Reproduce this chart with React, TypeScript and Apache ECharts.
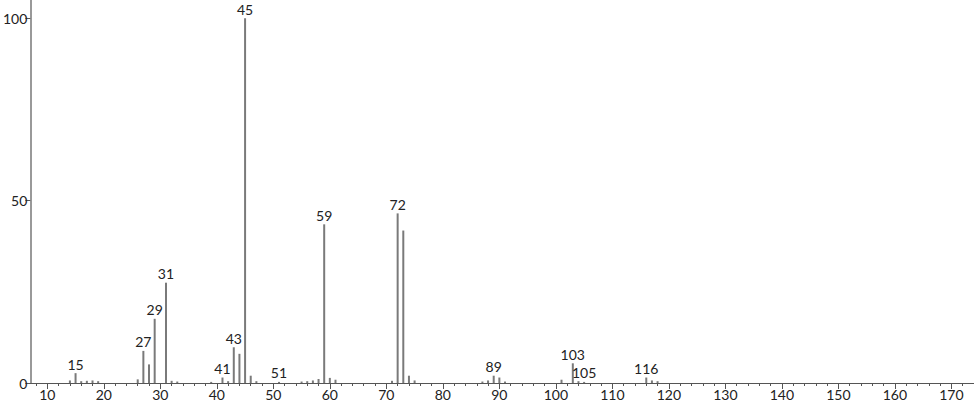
import React, { useEffect, useRef } from "react";
import * as echarts from "echarts";

const mzValues = [14, 15, 16, 17, 18, 19, 26, 27, 28, 29, 31, 32, 33, 39, 41, 42, 43, 44, 45, 46, 47, 51, 55, 56, 57, 58, 59, 60, 61, 71, 72, 73, 74, 75, 87, 88, 89, 90, 91, 101, 103, 104, 105, 116, 117, 118];
const intensities = [0.7, 2.7, 0.5, 0.6, 0.7, 0.5, 1.0, 8.8, 5.1, 17.6, 27.5, 0.6, 0.4, 0.3, 1.5, 0.5, 9.8, 8.0, 100, 2.0, 0.5, 0.3, 0.4, 0.5, 0.7, 1.1, 43.5, 1.4, 0.9, 0.6, 46.5, 41.8, 2.0, 0.7, 0.4, 0.7, 2.0, 1.5, 0.4, 0.9, 5.4, 0.5, 0.3, 1.5, 0.7, 0.5];
const labeledPeaks = [15, 27, 29, 31, 41, 43, 45, 51, 59, 72, 89, 103, 105, 116];
const xMajorTicks = [10, 20, 30, 40, 50, 60, 70, 80, 90, 100, 110, 120, 130, 140, 150, 160, 170];
const xMinorTicks = [8, 12, 14, 16, 18, 22, 24, 26, 28, 32, 34, 36, 38, 42, 44, 46, 48, 52, 54, 56, 58, 62, 64, 66, 68, 72, 74, 76, 78, 82, 84, 86, 88, 92, 94, 96, 98, 102, 104, 106, 108, 112, 114, 116, 118, 122, 124, 126, 128, 132, 134, 136, 138, 142, 144, 146, 148, 152, 154, 156, 158, 162, 164, 166, 168, 172, 174];
const yTicks = [0, 50, 100];

const FONT = "Lato, 'DejaVu Sans', sans-serif";

export default function App() {
  const ref = useRef<HTMLDivElement>(null);
  useEffect(() => {
    if (!ref.current) return;
    const chart = echarts.init(ref.current, null, { renderer: "svg" });
    const data = mzValues.map((mz, i) => ({
      value: [mz, intensities[i]],
      label: { show: labeledPeaks.includes(mz) },
    }));
    chart.setOption({
      animation: false,
      backgroundColor: "#ffffff",
      grid: { left: 30, right: 0, top: 0, bottom: 23, containLabel: false },
      xAxis: [
        {
          type: "value",
          min: 7,
          max: 174,
          position: "bottom",
          axisLine: { show: true, lineStyle: { color: "#555", width: 1 } },
          axisTick: { show: true, customValues: xMajorTicks, length: 6, lineStyle: { color: "#555" } },
          axisLabel: { show: true, customValues: xMajorTicks, fontSize: 14, color: "#222", margin: 4, fontFamily: FONT },
          splitLine: { show: false },
        },
        {
          type: "value",
          min: 7,
          max: 174,
          position: "bottom",
          axisLine: { show: false },
          axisTick: { show: true, customValues: xMinorTicks, length: 3, lineStyle: { color: "#555" } },
          axisLabel: { show: false },
          splitLine: { show: false },
        },
      ],
      yAxis: {
        type: "value",
        min: 0,
        max: 105,
        axisLine: { show: true, lineStyle: { color: "#999", width: 2 } },
        axisTick: { show: true, customValues: yTicks, length: 5, lineStyle: { color: "#555" } },
        axisLabel: { show: true, customValues: yTicks, fontSize: 14, color: "#222", margin: 3, fontFamily: FONT },
        splitLine: { show: false },
      },
      series: [
        {
          type: "bar",
          xAxisIndex: 0,
          barWidth: 2,
          itemStyle: { color: "#7a7a7a" },
          label: {
            position: "top",
            distance: 2,
            fontSize: 14,
            color: "#222",
            fontFamily: FONT,
            formatter: (p: any) => String(p.value[0]),
          },
          data,
        },
      ],
    });
    return () => chart.dispose();
  }, []);
  return (
    <div
      ref={ref}
      style={{ position: "fixed", left: 0, top: 0, width: 974, height: 406, background: "#fff" }}
    />
  );
}
